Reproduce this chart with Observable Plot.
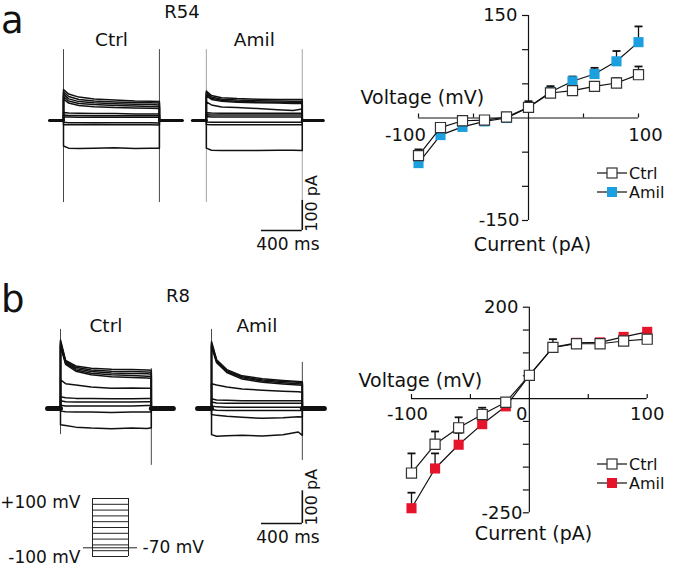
<!DOCTYPE html>
<html>
<head>
<meta charset="utf-8">
<script src="https://cdn.jsdelivr.net/npm/d3@7"></script>
<script src="https://cdn.jsdelivr.net/npm/@observablehq/plot@0.6"></script>
<style>
html,body{margin:0;padding:0;background:#fff;}
#fig{position:relative;width:675px;height:572px;overflow:hidden;font-family:"DejaVu Sans",sans-serif;}
#fig svg{position:absolute;overflow:visible;}
</style>
</head>
<body>
<div id="fig"></div>
<script>
// ================= DATA =================
// I–V curves (command voltage, mV) -> current (pA)
const voltages = [-100, -80, -60, -40, -20, 0, 20, 40, 60, 80, 100];
// panel a, R54
const r54Ctrl    = [-55, -14, -4, -3, 1.5, 15.6, 36.6, 40, 46.3, 51.2, 63.4];
const r54CtrlErr = [9, 3, 2, 1, 1, 9, 10, 3, 3, 7, 12];
const r54Amil    = [-66, -25, -13, -5, 0, 15.6, 38, 53.7, 64.4, 83, 111];
const r54AmilErr = [8, 3, 2, 2, 1, 3, 3, 7, 9, 15, 23];
// panel b, R8
const r8Ctrl    = [-163, -100, -64, -35, -8, 51, 112, 120, 120, 126, 130];
const r8CtrlErr = [43, 28, 23, 15, 3, 3, 18, 4, 3, 3, 3];
const r8Amil    = [-240, -153, -101, -56, -17, 51, 112, 122, 123, 135, 146];
const r8AmilErr = [34, 33, 26, 5, 3, 3, 3, 3, 3, 3, 5];

// axis ticks / labels
const ivTicksXA = [-100, -50, 50, 100];
const ivTicksYA = [-150, -100, -50, 50, 100, 150];
const ivLabelsXA = ["-100", "100"];
const ivLabelsYA = ["-150", "150"];
const ivTicksXB = [-100, -50, 50, 100];
const ivTicksYB = [-250, -200, -150, -100, -50, 50, 100, 150, 200];
const ivLabelsXB = ["-100", "100"];
const ivOriginLabelB = "0";
const ivLabelsYB = ["-250", "200"];

// current traces (pA) sampled at times (ms) from step onset; one row per voltage step (-100 ... +100 mV)
const stepTimesA = [0, 50, 150, 300, 500, 700, 850, 940];
const r54TraceCtrl = [
  [-85, -92, -93, -92, -91, -93, -92, -92],
  [-14, -14, -14, -13, -14, -14, -14, -15],
  [-6, -7, -7, -7, -7, -7, -7, -8],
  [12, 12, 11, 11, 11, 11, 11, 11],
  [18, 17, 17, 16, 16, 16, 16, 16],
  [27, 25, 24, 23, 23, 22, 22, 22],
  [72, 58, 50, 46, 43, 42, 41, 40],
  [80, 65, 57, 53, 50, 48, 47, 46],
  [88, 72, 63, 59, 56, 54, 53, 52],
  [95, 80, 70, 65, 62, 60, 59, 58],
  [103, 88, 78, 72, 68, 65, 64, 63]
];
const r54TraceAmil = [
  [-92, -99, -100, -100, -100, -99, -99, -100],
  [-13, -14, -14, -14, -14, -14, -14, -14],
  [-5, -6, -6, -6, -6, -6, -6, -6],
  [13, 12, 12, 12, 12, 12, 12, 12],
  [19, 18, 18, 18, 18, 18, 18, 18],
  [26, 25, 24, 24, 24, 24, 24, 24],
  [62, 52, 45, 43, 40, 36, 33, 38],
  [82, 70, 64, 61, 59, 58, 57, 57],
  [88, 74, 67, 64, 62, 61, 60, 60],
  [93, 78, 71, 68, 66, 65, 64, 64],
  [98, 83, 76, 73, 71, 70, 70, 70]
];
const stepTimesB = [0, 50, 150, 300, 500, 700, 850, 890];
const r8TraceCtrl = [
  [-50, -52, -57, -60, -62, -60, -61, -59],
  [-8, -10, -11, -11, -12, -11, -11, -11],
  [10, 8, 8, 8, 8, 8, 9, 9],
  [24, 21, 20, 20, 20, 20, 21, 21],
  [36, 33, 31, 31, 30, 30, 31, 31],
  [88, 76, 72, 66, 62, 63, 62, 62],
  [190, 135, 114, 103, 97, 95, 93, 92],
  [195, 138, 118, 108, 103, 101, 99, 98],
  [200, 141, 122, 113, 109, 107, 106, 105],
  [205, 144, 126, 118, 114, 113, 112, 111],
  [210, 147, 130, 123, 120, 119, 118, 117]
];
const r8TraceAmil = [
  [-80, -85, -83, -82, -84, -80, -72, -82],
  [-18, -21, -24, -27, -30, -28, -25, -26],
  [-3, -5, -6, -6, -6, -6, -6, -6],
  [8, 5, 4, 4, 4, 4, 4, 4],
  [20, 17, 16, 16, 16, 16, 16, 16],
  [30, 26, 25, 24, 24, 24, 24, 24],
  [76, 72, 66, 60, 56, 53, 51, 50],
  [190, 140, 110, 90, 80, 75, 72, 71],
  [195, 143, 113, 94, 84, 79, 76, 75],
  [200, 146, 116, 97, 87, 83, 80, 79],
  [205, 149, 119, 100, 91, 86, 83, 82]
];
// capacitive transient extents (pA) at step on / off
const r54Transients = {Ctrl: [[236, -273], [236, -273]], Amil: [[236, -273], [236, -273]]};
const r8Transients  = {Ctrl: [[242, -80], [122, -174]], Amil: [[242, -83], [141, -159]]};
// voltage protocol (mV)
const protocolSteps = [-100, -80, -60, -40, -20, 0, 20, 40, 60, 80, 100];
const holdingMv = -70;
// scale bar sizes
const scaleBarMs = 400, scaleBarPA = 100;

// ================= LAYOUT =================
const fig = document.getElementById("fig");
const FONT = "DejaVu Sans, sans-serif";
function place(node, left, top) {
  node.style.left = left + "px";
  node.style.top = top + "px";
  fig.appendChild(node);
}
const BLUE = "#1b9fdf", RED = "#e6142b", INK = "#111";

// ---------- trace panels ----------
function tracePlot(cfg) {
  const rows = [], base = [], trans = [];
  for (const cond of ["Ctrl", "Amil"]) {
    const off = cfg.offsets[cond];
    cfg.sets[cond].forEach((vals, k) => {
      const key = cond + k;
      rows.push({key, t: off + cfg.pre[cond], i: 0});
      rows.push({key, t: off, i: 0});
      cfg.times.forEach((t, j) => rows.push({key, t: off + t, i: vals[j]}));
      rows.push({key, t: off + cfg.dur, i: 0});
      rows.push({key, t: off + cfg.dur + cfg.post[cond], i: 0});
    });
    base.push({key: cond + "pre", t: off + cfg.pre[cond], i: 0}, {key: cond + "pre", t: off, i: 0});
    base.push({key: cond + "post", t: off + cfg.dur, i: 0}, {key: cond + "post", t: off + cfg.dur + cfg.post[cond], i: 0});
    const tr = cfg.transients[cond];
    trans.push({cond, t: off, y1: tr[0][0], y2: tr[0][1]});
    trans.push({cond, t: off + cfg.dur, y1: tr[1][0], y2: tr[1][1]});
  }
  const barX2 = cfg.offsets.Amil + cfg.dur, barX1 = barX2 - scaleBarMs;
  const barY1 = cfg.barBottom, barY2 = cfg.barBottom + scaleBarPA;
  const titles = ["Ctrl", "Amil"].map(c => ({c, t: cfg.offsets[c] + cfg.dur / 2}));
  return Plot.plot({
    width: cfg.width, height: cfg.height, margin: 0,
    x: {domain: cfg.xDomain, axis: null},
    y: {domain: cfg.yDomain, axis: null},
    style: {fontFamily: FONT, color: INK, background: "transparent", overflow: "visible"},
    marks: [
      Plot.ruleX(trans, {x: "t", y1: "y1", y2: "y2", stroke: d => d.cond === "Ctrl" ? "#333" : cfg.amilTransColor, strokeWidth: 0.9}),
      Plot.line(base, {x: "t", y: "i", z: "key", stroke: INK, strokeWidth: cfg.baseWidth}),
      Plot.line(rows, {x: "t", y: "i", z: "key", stroke: INK, strokeWidth: 1.5, strokeLinejoin: "round"}),
      Plot.ruleY([barY1], {x1: barX1, x2: barX2, stroke: INK, strokeWidth: 1.6}),
      Plot.ruleX([barX2], {y1: barY1, y2: barY2, stroke: INK, strokeWidth: 1.6}),
      Plot.text([scaleBarMs + " ms"], {x: (barX1 + barX2) / 2, y: barY1, text: d => d, dx: 6, dy: cfg.msDy, fontSize: 17}),
      Plot.text([scaleBarPA + " pA"], {x: barX2, y: (barY1 + barY2) / 2, text: d => d, dx: 10, dy: cfg.paDy, rotate: -90, fontSize: 16}),
      Plot.text(titles, {x: "t", frameAnchor: "top", lineAnchor: "middle", dy: cfg.titleDy, text: "c", fontSize: 18.5})
    ]
  });
}

const traceA = tracePlot({
  width: 310, height: 240,
  xDomain: [-323.4, 2714.6], yDomain: [-466, 333],
  times: stepTimesA, dur: 940,
  sets: {Ctrl: r54TraceCtrl, Amil: r54TraceAmil},
  offsets: {Ctrl: 0, Amil: 1400},
  pre: {Ctrl: -137, Amil: -137}, post: {Ctrl: 225, Amil: 206},
  transients: r54Transients, amilTransColor: "#9a9a9a",
  baseWidth: 3, barBottom: -366, msDy: 14, paDy: -12, titleDy: 20
});
place(traceA, 30, 20);

const traceB = tracePlot({
  width: 310, height: 260,
  xDomain: [-294, 2744], yDomain: [-465.1, 330.5],
  times: stepTimesB, dur: 890,
  sets: {Ctrl: r8TraceCtrl, Amil: r8TraceAmil},
  offsets: {Ctrl: 0, Amil: 1480},
  pre: {Ctrl: -127, Amil: -137}, post: {Ctrl: 216, Amil: 216},
  transients: r8Transients, amilTransColor: "#333",
  baseWidth: 5, barBottom: -352, msDy: 14, paDy: -10, titleDy: 26
});
place(traceB, 30, 300);

// ---------- voltage protocol ----------
const protocol = Plot.plot({
  width: 210, height: 87, margin: 0,
  x: {domain: [-0.25, 1.25], range: [83, 137], axis: null},
  y: {domain: [-100, 100], range: [71, 13], axis: null},
  style: {fontFamily: FONT, color: INK, background: "transparent", overflow: "visible"},
  marks: [
    Plot.ruleY([holdingMv], {x1: -0.25, x2: 1.25, stroke: "#222", strokeWidth: 1}),
    Plot.ruleY(protocolSteps, {y: d => d, x1: 0, x2: 1, stroke: "#222", strokeWidth: 1}),
    Plot.ruleX([0, 1], {y1: -100, y2: 100, stroke: "#222", strokeWidth: 1}),
    Plot.text([protocolSteps[protocolSteps.length - 1]], {x: 0, y: d => d, text: d => "+" + d + " mV", textAnchor: "end", dx: -12, dy: 4, fontSize: 17}),
    Plot.text([protocolSteps[0]], {x: 0, y: d => d, text: d => d + " mV", textAnchor: "end", dx: -12, dy: 1, fontSize: 17}),
    Plot.text([holdingMv], {x: 1.25, y: d => d, text: d => d + " mV", textAnchor: "start", dx: 5, fontSize: 17})
  ]
});
place(protocol, 0, 485);

// ---------- I–V panels ----------
function ivPlot(cfg) {
  const mk = (vals, errs) => voltages.map((v, k) => ({v, i: vals[k], e: errs[k]}));
  const ctrl = mk(cfg.ctrl, cfg.ctrlErr), amil = mk(cfg.amil, cfg.amilErr);
  const pxX = (cfg.xRange[1] - cfg.xRange[0]) / 200;
  const pxY = (cfg.yRange[0] - cfg.yRange[1]) / (cfg.yDomain[1] - cfg.yDomain[0]);
  const cap = 4 / pxX;
  const series = (data, fill, stroke) => [
    Plot.ruleX(data, {x: "v", y1: "i", y2: d => d.i + d.e, stroke: INK, strokeWidth: 1.3}),
    Plot.link(data, {x1: d => d.v - cap, x2: d => d.v + cap, y1: d => d.i + d.e, y2: d => d.i + d.e, stroke: INK, strokeWidth: 1.8}),
    Plot.line(data, {x: "v", y: "i", stroke: INK, strokeWidth: 1.2}),
    Plot.dot(data, {x: "v", y: "i", symbol: "square", r: 5.7, fill, stroke, strokeWidth: 1.2})
  ];
  const xLab = cfg.xLabels.map((s, k) => ({s, v: +s, sh: cfg.xLabelDx[k] / pxX}));
  const yLab = cfg.yLabels.map((s, k) => ({s, v: +s, sh: cfg.yLabelDx[k] / pxX}));
  const extra = cfg.originLabel ? [
    Plot.text([{s: cfg.originLabel}], {x: () => 0, y: () => 0, text: "s", textAnchor: "end", dx: -2, dy: cfg.xLabelDy, fontSize: 18, fill: INK, stroke: "white", strokeWidth: 0})
  ] : [];
  return Plot.plot({
    width: 325, height: cfg.height, margin: 0,
    x: {domain: [-100, 100], range: cfg.xRange, axis: null},
    y: {domain: cfg.yDomain, range: cfg.yRange, axis: null},
    style: {fontFamily: FONT, color: INK, background: "transparent", overflow: "visible"},
    marks: [
      Plot.ruleY([0], {x1: -100, x2: 100, stroke: INK, strokeWidth: 1.2}),
      Plot.ruleX([0], {y1: cfg.yDomain[0], y2: cfg.yDomain[1], stroke: INK, strokeWidth: 1.2}),
      Plot.ruleX(cfg.xTicks, {x: d => d, y1: 0, y2: 4 / pxY, stroke: INK, strokeWidth: 1.2}),
      Plot.ruleY(cfg.yTicks, {y: d => d, x1: 0, x2: -6 / pxX, stroke: INK, strokeWidth: 1.2}),
      ...series(amil, cfg.color, "none"),
      ...series(ctrl, "white", "#333"),
      Plot.text(xLab, {x: d => d.v + d.sh, y: d => d.v * 0, text: "s", dy: cfg.xLabelDy, fontSize: 18, fill: INK}),
      Plot.text(yLab, {x: d => d.sh, y: "v", text: "s", textAnchor: "end", fontSize: 18, fill: INK}),
      ...extra,
      Plot.text(["Voltage (mV)"], {frameAnchor: "top-left", lineAnchor: "middle", text: d => d, textAnchor: "start", dx: cfg.vTitle[0], dy: cfg.vTitle[1], fontSize: 19}),
      Plot.text(["Current (pA)"], {frameAnchor: "top-left", lineAnchor: "middle", text: d => d, textAnchor: "middle", dx: cfg.cTitle[0], dy: cfg.cTitle[1], fontSize: 19})
    ]
  });
}

const ivA = ivPlot({
  ctrl: r54Ctrl, ctrlErr: r54CtrlErr, amil: r54Amil, amilErr: r54AmilErr, color: BLUE,
  height: 255, xRange: [68, 288], yDomain: [-150, 150], yRange: [220, 15],
  xTicks: ivTicksXA, yTicks: ivTicksYA,
  xLabels: ivLabelsXA, xLabelDx: [-13, 7], xLabelDy: 17,
  yLabels: ivLabelsYA, yLabelDx: [-9, -11],
  vTitle: [10, 97], cTitle: [182, 244]
});
place(ivA, 350, 0);

const ivB = ivPlot({
  ctrl: r8Ctrl, ctrlErr: r8CtrlErr, amil: r8Amil, amilErr: r8AmilErr, color: RED,
  height: 280, xRange: [61, 296.7], yDomain: [-250, 200], yRange: [232.3, 26.7],
  xTicks: ivTicksXB, yTicks: ivTicksYB,
  xLabels: ivLabelsXB, xLabelDx: [-4, 0], xLabelDy: 16, originLabel: ivOriginLabelB,
  yLabels: ivLabelsYB, yLabelDx: [-7, -11],
  vTitle: [8, 100], cTitle: [183, 253]
});
place(ivB, 350, 280);

// ---------- overlay: panel letters, cell names, legends ----------
const ov = d3.create("svg").attr("width", 675).attr("height", 572)
  .style("left", "0px").style("top", "0px").style("pointer-events", "none")
  .attr("font-family", FONT).attr("fill", INK);
ov.append("text").attr("x", 1).attr("y", 33).attr("font-size", 37).text("a");
ov.append("text").attr("x", 1).attr("y", 312).attr("font-size", 37).text("b");
ov.append("text").attr("x", 182).attr("y", 18).attr("text-anchor", "middle").attr("font-size", 18).text("R54");
ov.append("text").attr("x", 178).attr("y", 302).attr("text-anchor", "middle").attr("font-size", 18).text("R8");
function legend(y0, y1, color) {
  [[y0, "white", "#333", "Ctrl"], [y1, color, "none", "Amil"]].forEach(([y, f, s, t]) => {
    ov.append("line").attr("x1", 597).attr("x2", 627).attr("y1", y).attr("y2", y).attr("stroke", INK).attr("stroke-width", 1.2);
    ov.append("rect").attr("x", 607).attr("y", y - 5).attr("width", 10).attr("height", 10)
      .attr("fill", f).attr("stroke", s).attr("stroke-width", 1.2);
    ov.append("text").attr("x", 629).attr("y", y).attr("dy", "0.36em").attr("font-size", 16).text(t);
  });
}
legend(173, 192, BLUE);
legend(464, 483, RED);
fig.appendChild(ov.node());
</script>
</body>
</html>
